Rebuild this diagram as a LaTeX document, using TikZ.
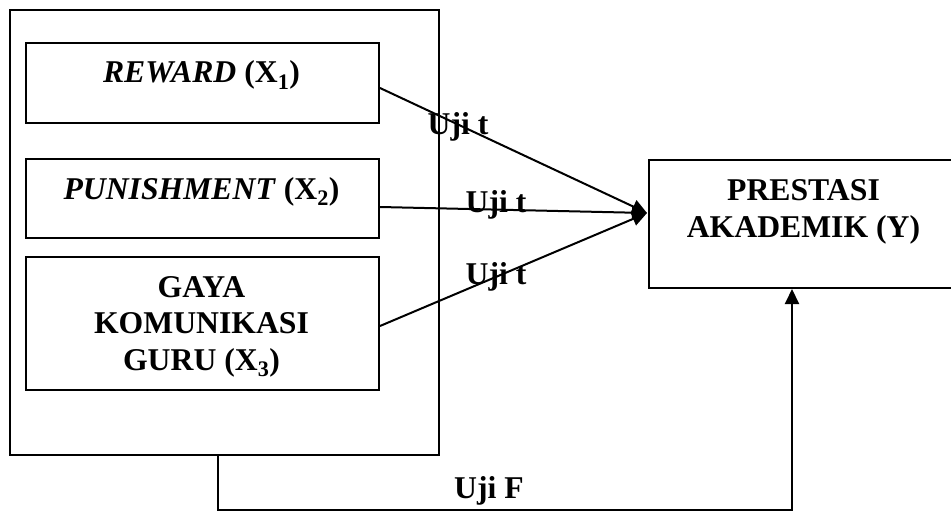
\documentclass[tikz,border=0pt]{standalone}
\usepackage{fontspec}
\setmainfont{Liberation Serif}
\usetikzlibrary{arrows.meta}

\begin{document}
\begin{tikzpicture}[x=1pt,y=1pt,line width=2pt]
\tikzstyle{every node}+=[inner sep=0pt,font=\fontsize{31.7}{36.5}\selectfont\bfseries]
\tikzstyle{box}=[draw=black,rectangle,anchor=north west]
\tikzstyle{tip}=[-{Triangle[length=15pt,width=14pt]}]
\useasboundingbox (0,0) rectangle (951,-511);
\clip (0,0) rectangle (951,-511);
\node [box,minimum width=429,minimum height=445] (outer) at (8.5,-9.3) {};
\node [box,minimum width=353,minimum height=80] (rw) at (25,-42) {};
\node [anchor=base] (rwt) at (201.5,-83) {\textit{REWARD} (X\textsubscript{1})};
\node [box,minimum width=353,minimum height=79] (pn) at (25,-158) {};
\node [anchor=base] (pnt) at (201.5,-199) {\textit{PUNISHMENT} (X\textsubscript{2})};
\node [box,minimum width=353,minimum height=133] (gy) at (25,-256) {};
\node [anchor=base,align=center] (gyt) at (201.5,-370) {GAYA\\KOMUNIKASI\\GURU (X\textsubscript{3})};
\node [box,minimum width=330,minimum height=128] (py) at (648,-159) {};
\node [anchor=base,align=center] (pyt) at (803.5,-237) {PRESTASI\\AKADEMIK (Y)};
\coordinate (ptip) at (647,-213);
\draw [tip] ([yshift=-5pt]rw.east) -- (ptip);
\draw [tip] ([yshift=-8.5pt]pn.east) -- (ptip);
\draw [tip] ([yshift=-2.5pt]gy.east) -- (ptip);
\node [anchor=base] (t1) at (458,-135) {Uji t};
\node [anchor=base] (t2) at (496,-212) {Uji t};
\node [anchor=base] (t3) at (496,-284) {Uji t};
% uji F
\coordinate (fl) at (218,-510);
\coordinate (fr) at (792,-510);
\draw [tip] (outer.south -| fl) -- (fl) -- (fr) -- (py.south -| fr);
\node [anchor=base] (tf) at (489,-498) {Uji F};
\end{tikzpicture}
\end{document}
